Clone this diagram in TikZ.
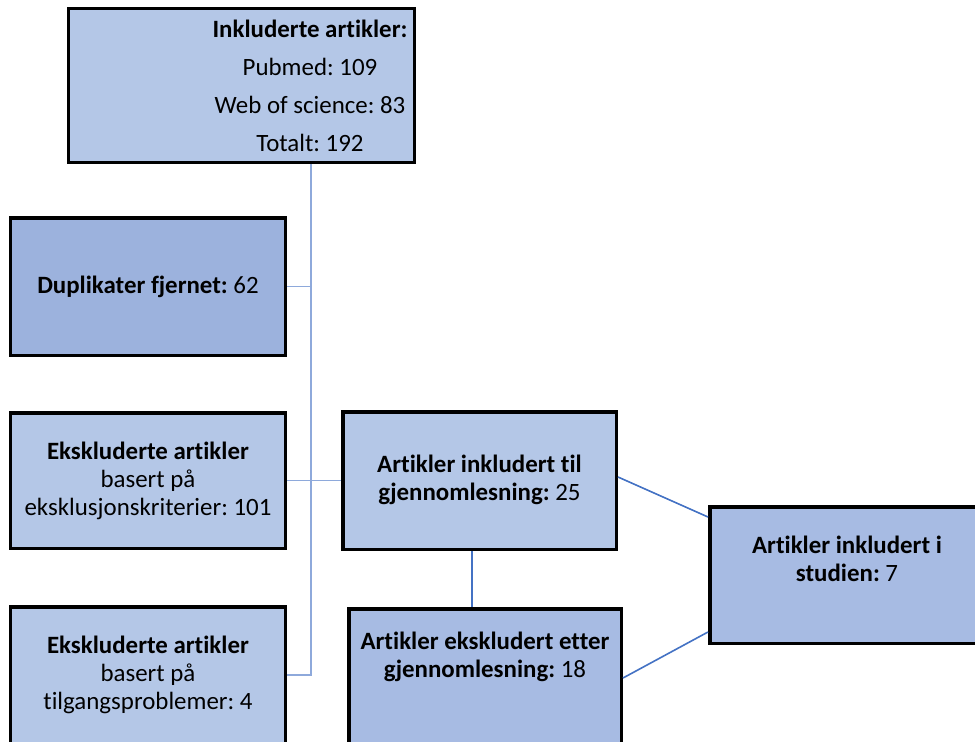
\documentclass[tikz,border=0pt]{standalone}
\usepackage{fontspec}
\setmainfont{Carlito}[Ligatures={NoCommon}]
\frenchspacing
\definecolor{lightfill}{HTML}{B4C7E7}
\definecolor{darkfill}{HTML}{9CB2DD}
\definecolor{midfill}{HTML}{A7BBE3}
\definecolor{treeblue}{HTML}{8EA9DB}
\definecolor{linkblue}{HTML}{4472C4}
\begin{document}
\begin{tikzpicture}[x=1bp,y=-1bp,
  box/.style={draw=black, line width=3.5bp, rectangle, inner sep=0pt},
  txt/.style={align=center, inner sep=0pt, font=\fontsize{25}{28}\selectfont},
  tree/.style={draw=treeblue, line width=1.8bp},
  link/.style={draw=linkblue, line width=1.6bp}]
\useasboundingbox (0,0) rectangle (975,742);
\clip (0,0) rectangle (975,742);
\fill[white] (0,0) rectangle (975,742);
% boxes
\node[box, fill=lightfill, minimum width=345.5bp, minimum height=153.5bp] (top) at (241.5,85.5) {};
\node[box, fill=darkfill, minimum width=274.5bp, minimum height=137.5bp] (dup) at (148,286.5) {};
\node[box, fill=lightfill, minimum width=274.5bp, minimum height=135.5bp] (ek1) at (148,480.5) {};
\node[box, fill=lightfill, minimum width=274.5bp, minimum height=151.5bp] (ek2) at (148,682.5) {};
\node[box, fill=lightfill, minimum width=273.5bp, minimum height=137.5bp] (inkl) at (479.5,480.5) {};
\node[box, fill=midfill, minimum width=272.5bp, minimum height=149.5bp] (etter) at (485,683.5) {};
\node[box, fill=midfill, minimum width=278.5bp, minimum height=136.5bp] (stud) at (849,575) {};
% texts
\node[txt, font=\fontsize{25}{38}\selectfont] (ttop) at (310,86) {\textbf{Inkluderte artikler:}\\Pubmed: 109\\Web of science: 83\\Totalt: 192};
\node[txt] (tdup) at (148,287) {\textbf{Duplikater fjernet:} 62};
\node[txt] (tek1) at (148,481) {\textbf{Ekskluderte artikler}\\basert på\\eksklusjonskriterier: 101};
\node[txt] (tek2) at (148,675) {\textbf{Ekskluderte artikler}\\basert på\\tilgangsproblemer: 4};
\node[txt] (tinkl) at (479.5,480) {\textbf{Artikler inkludert til}\\\textbf{gjennomlesning:} 25};
\node[txt] (tetter) at (485,656.5) {\textbf{Artikler ekskludert etter}\\\textbf{gjennomlesning:} 18};
\node[txt] (tstud) at (847,558.5) {\textbf{Artikler inkludert i}\\\textbf{studien:} 7};
% connectors
\coordinate (trunk) at (311,675);
\coordinate (mid) at (472,580);
\draw[tree] (top.south -| trunk) -- (trunk) -- (ek2.east |- trunk);
\draw[tree] (dup.east) -- (dup.east -| trunk);
\draw[tree] (ek1.east) -- (inkl.west);
\draw[link] (inkl.south -| mid) -- (etter.north -| mid);
\draw[link] ([yshift=3.5bp]inkl.east) -- ([yshift=58bp]stud.west);
\draw[link] ([yshift=5.5bp]etter.east) -- ([yshift=-57bp]stud.west);
\end{tikzpicture}
\end{document}
